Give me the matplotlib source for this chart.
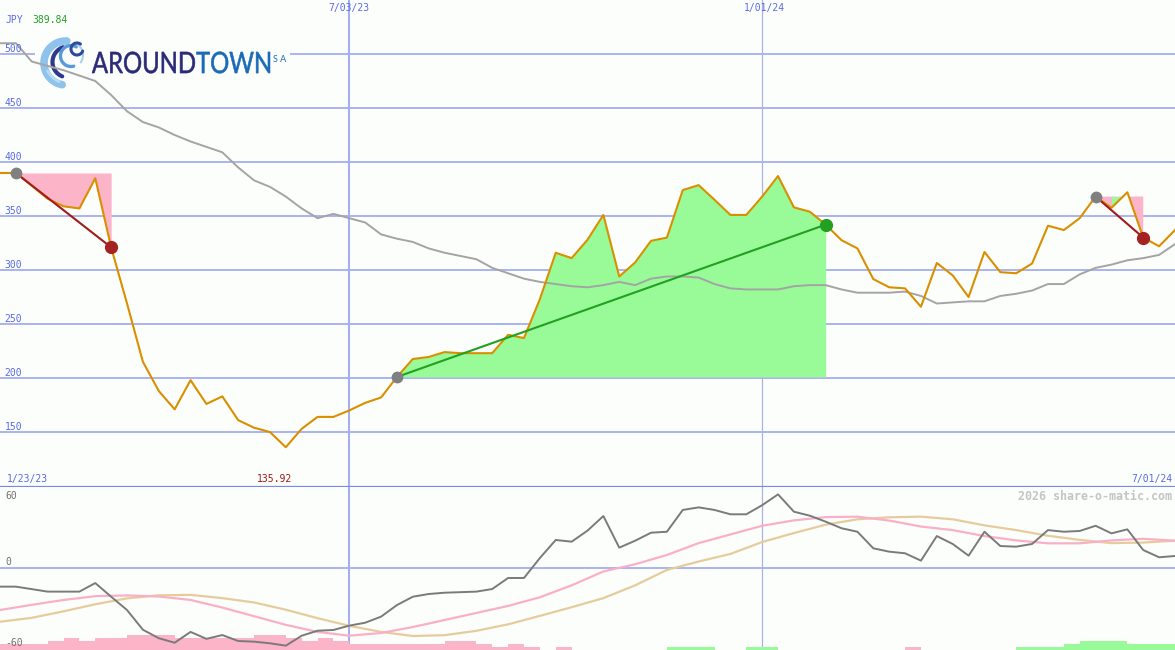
import numpy as np
import pandas as pd
import matplotlib
matplotlib.use('Agg')
import matplotlib.pyplot as plt
import matplotlib.dates as mdates
from matplotlib.transforms import Affine2D
from matplotlib.textpath import TextPath, TextToPath
from matplotlib.patches import PathPatch, Rectangle
from matplotlib.font_manager import FontProperties

# weekly closes, JPY
dates = pd.date_range('2023-01-30', periods=75, freq='7D')
price = [389.84, 389.84, 378, 366, 359, 357, 385, 321, 269, 215,
         188, 171, 198, 176, 183, 161, 154, 150, 135.92, 153,
         164, 164, 170, 177, 182, 201, 217.6, 219.5, 224, 223,
         223, 223, 240, 237, 273, 316, 311, 328, 351, 294,
         307, 327, 330, 374, 378.6, 365, 351, 351, 368, 387,
         358, 354, 342, 327.6, 320, 291.6, 284, 283, 266, 306.5,
         295, 275, 316.7, 298, 297, 306, 341, 337, 348, 368,
         357.6, 372, 330, 322, 337]
ma = [510, 510, 493, 489, 485, 480, 475, 462, 447, 437,
      432, 425, 419, 414, 409, 395, 383, 377, 368, 357,
      348, 352, 348, 344, 333, 329, 326, 320, 316, 313,
      310, 302, 297, 292, 289, 287, 285, 284, 286, 289,
      286, 292, 294, 294, 293, 287, 283, 282, 282, 282,
      285, 286, 286, 282, 279, 279, 279, 280, 276, 269,
      270, 271, 271, 276, 278, 281, 287, 287, 296, 302,
      305, 309, 311, 314, 324]

# indicator panel
mom = [-17.2, -17.2, -19.5, -21.8, -21.8, -21.8, -13.9, -26.5, -38.8, -57,
       -64.8, -69, -59, -65.4, -61.9, -67.4, -68, -69.5, -71.7, -62.5,
       -57.9, -57.2, -53.2, -50.5, -44.9, -34.2, -26.5, -24, -22.8, -22.3,
       -21.8, -19.4, -9.2, -9.2, 9.2, 25.9, 24.3, 34.5, 48, 18.8,
       25.2, 32.6, 33.5, 53.6, 56, 53.6, 49.6, 49.6, 58, 68,
       52, 48.3, 42.8, 36.7, 33.5, 18.2, 15.1, 13.6, 6.8, 29.5,
       22.2, 11.4, 33.5, 20.3, 19.7, 22.2, 35, 33.5, 34.2, 39,
       32, 35.7, 16.6, 9.9, 11.1]
sig_fast = [-38.8, -34, -29.5, -26, -25.3, -26.3, -29.5, -36.5, -44.5, -52.5,
            -59, -62.5, -60, -54.5, -48, -41.5, -35, -27, -16, -3.2,
            3.5, 12, 23, 31, 39, 44, 47, 47.4, 43.8, 38.3,
            35, 29.5, 25.5, 22.8, 22.8, 25.5, 27, 25.2]
sig_slow = [-49.6, -46, -40, -33.5, -28, -25.2, -24.8, -27.8, -31.8, -38.5,
            -46.3, -53.4, -59, -62.8, -62, -58, -52, -44.2, -36.2, -27.8,
            -16, -1.8, 6, 13, 24, 32.3, 40, 45, 46.8, 47.4,
            45, 39.4, 35, 29.8, 26, 23, 23.5, 25.2]
hist = [-5.5, -5.5, -5.5, -8.6, -11.1, -8.6, -11.1, -11.1, -14.1, -14.1,
        -14.1, -11.1, -11.1, -11.1, -11.1, -11.1, -14.1, -14.1, -11.1, -8.6,
        -11.1, -8.6, -5.5, -5.5, -5.5, -5.5, -5.5, -5.5, -8.6, -8.6,
        -5.5, -3, -5.5, -3, 0, -3, 0, 0, 0, 0,
        0, 0, 3, 3, 3, 0, 0, 3, 3, 0,
        0, 0, 0, 0, 0, 0, 0, -3, 0, 0,
        0, 0, 0, 0, 3, 3, 3, 5.5, 8.6, 8.6,
        8.6, 5.5, 5.5, 5.5]

trade_start = [1, 25, 69]
trade_end = [7, 52, 72]
green_segments = [70]

y_levels = [150, 200, 250, 300, 350, 400, 450, 500]
markers = ['2023-07-03', '2024-01-01']

bg = '#fcfefc'
grid = '#a4aef0'
lab = '#5a6ae6'
pink = '#fbb4c8'
lgreen = '#98fb98'
orange = '#d98f00'
mono = 'DejaVu Sans Mono'

x = mdates.date2num(dates)
p = np.array(price)

fig = plt.figure(figsize=(11.75, 6.5), dpi=100, facecolor=bg)
ax1 = fig.add_axes([0, 163 / 650, 1, 487 / 650])
ax2 = fig.add_axes([0, 0, 1, 163 / 650])
for ax in (ax1, ax2):
    ax.set_facecolor(bg)
    ax.set_xticks([])
    ax.set_yticks([])
    for sp in ax.spines.values():
        sp.set_visible(False)
ax1.spines['bottom'].set_visible(True)
ax1.spines['bottom'].set_color('#7888e8')
ax1.spines['bottom'].set_linewidth(1.6)

# pixel coordinates of the saved image (origin top-left)
px = Affine2D().scale(0.01, -0.01).translate(0, 6.5) + fig.dpi_scale_trans

# price panel
for v in y_levels:
    ax1.axhline(v, color=grid, lw=1.3, zorder=1)
    ax1.text(0.004, v + 4.6, str(v), transform=ax1.get_yaxis_transform(),
             color=lab, fontsize=7, family=mono, va='center', ha='left', zorder=6)
for i, d in enumerate(markers):
    for ax in (ax1, ax2):
        ax.axvline(mdates.datestr2num(d), color=grid if i == 0 else '#aab2e2',
                   lw=1.5 if i == 0 else 0.9, zorder=1)

# logo
ax1.add_patch(Rectangle((35, 33), 255, 58, transform=px, facecolor=bg,
                        edgecolor='none', zorder=1.5))
for cx, cy, r, a0, a1, col, lw in [(66, 63, 22, 100, 272, '#8fc3ec', 5.5),
                                   (70, 58, 26, 115, 150, '#b8daf4', 2.0),
                                   (68, 62, 15.5, 112, 252, '#2e3a8c', 3.0),
                                   (71, 56, 10.5, 75, 300, '#5a9ad8', 2.4),
                                   (70, 55, 13, -70, 35, '#a8d0f0', 1.5),
                                   (77, 49, 6, 20, 305, '#2e4a9c', 2.2)]:
    t = np.radians(np.linspace(a0, a1, 80))
    ax1.plot(cx + r * np.cos(t), cy + r * np.sin(t), transform=px, color=col,
             lw=lw, solid_capstyle='round', zorder=1.6)
fp = FontProperties(family='Lato', size=100)
w_around = TextToPath().get_text_width_height_descent('AROUND', fp, ismath=False)[0]
tp_all = TextPath((0, 0), 'AROUNDTOWN', size=100, prop=fp)
ext = tp_all.get_extents()
sx = (270 - 92) / ext.width
sy = 21.6 / ext.height
logo_tr = Affine2D().translate(-ext.x0, -ext.y0).scale(sx, -sy).translate(92, 73.3) + px
ax1.add_patch(PathPatch(TextPath((0, 0), 'AROUND', size=100, prop=fp),
                        transform=logo_tr, facecolor='#2b2a78', edgecolor='#2b2a78',
                        lw=0.4, zorder=1.7))
ax1.add_patch(PathPatch(TextPath((w_around, 0), 'TOWN', size=100, prop=fp),
                        transform=logo_tr, facecolor='#1a6ab8', edgecolor='#1a6ab8',
                        lw=0.4, zorder=1.7))
fig.text(273 / 1175, 1 - 59 / 650, 'S A', family='Lato', fontsize=6.5, color='#1a6ab8',
         va='center', ha='left')

# trades
for s, e in zip(trade_start, trade_end):
    lvl = p[s]
    xs = x[s:e + 1]
    ps = p[s:e + 1]
    win = p[e] > lvl
    if win:
        ax1.fill_between(xs, lvl, ps, where=ps >= lvl, interpolate=True,
                         color=lgreen, lw=0, zorder=2)
    else:
        ax1.fill_between(xs, ps, lvl, where=ps <= lvl, interpolate=True,
                         color=pink, lw=0, zorder=2)
        for g in green_segments:
            if s <= g < e:
                gp = p[g:g + 2]
                ax1.fill_between(x[g:g + 2], gp, lvl, where=gp <= lvl, interpolate=True,
                                 color=lgreen, lw=0, zorder=2.1)
    ax1.plot([x[s], x[e]], [lvl, p[e]], color='#22a022' if win else '#a01c1c',
             lw=1.5, zorder=4)
    ax1.plot(x[s], lvl, 'o', ms=7.5, color='#808080', zorder=5)
    ax1.plot(x[e], p[e], 'o', ms=8.5, color='#22a022' if win else '#a52222', zorder=5)

ax1.plot(x, ma, color='#a4a4a4', lw=1.4, zorder=2.5)
ax1.plot(x, p, color=orange, lw=1.5, zorder=3)
ax1.set_xlim(x[0], x[-1])
ax1.set_ylim(99.1, 550)

# indicator panel
ylo, yhi = -75.7, 74.8
ax2.axhline(0, color=grid, lw=1.3, zorder=1)
h = np.array(hist)
ax2.bar(x[:-1], np.abs(h), width=7, align='edge', bottom=ylo, lw=0,
        color=[lgreen if v > 0 else pink for v in h], zorder=1.5)
ax2.plot(x[::2], sig_slow, color='#e6cc9c', lw=1.6, zorder=2)
ax2.plot(x[::2], sig_fast, color='#f9b0c6', lw=1.6, zorder=2.1)
ax2.plot(x, mom, color='#7a7a7a', lw=1.4, zorder=3)
ax2.set_xlim(x[0], x[-1])
ax2.set_ylim(ylo, yhi)


def label(xp, yp, s, color=lab, ha='left', size=7, weight='normal'):
    fig.text(xp / 1175, 1 - yp / 650, s, color=color, ha=ha, va='center',
             family=mono, fontsize=size, fontweight=weight)


label(5, 20, 'JPY')
label(32, 20, '389.84', color='#22a022')
label(349, 8, '7/03/23', ha='center')
label(764, 8, '1/01/24', ha='center')
label(7, 479, '1/23/23')
label(274, 479, '135.92', color='#a01818', ha='center')
label(1172, 479, '7/01/24', ha='right')
label(5, 496, '60', color='#707070')
label(5, 562, '0', color='#707070')
label(5, 643, '-60', color='#707070')
label(1172, 496, '2026 share-o-matic.com', color='#c4c4c4', ha='right',
      size=8.4, weight='bold')

fig.savefig('out.png', dpi=100, facecolor=bg)
